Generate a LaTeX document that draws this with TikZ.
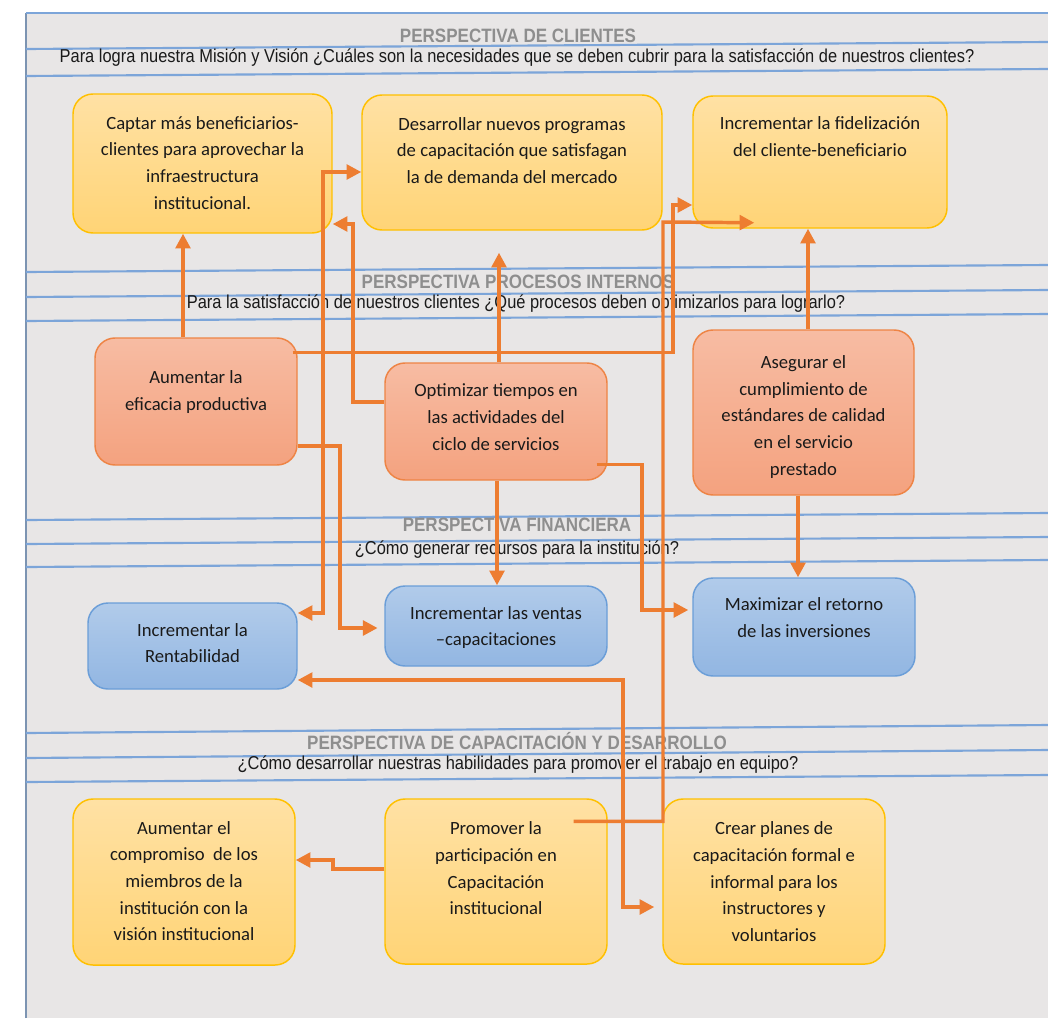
\documentclass[tikz,border=0pt]{standalone}
\usepackage{fontspec}
\setmainfont{Carlito}
\newfontfamily\bandfont[FakeStretch=0.88]{Liberation Sans}
\usetikzlibrary{arrows.meta,fit,calc}

\definecolor{pagegray}{HTML}{E8E6E6}
\definecolor{framecol}{HTML}{7C94B2}
\definecolor{bandline}{HTML}{7CA5D9}
\definecolor{titlegray}{HTML}{8E8E8E}
\definecolor{connorange}{HTML}{ED7D31}
\definecolor{boxink}{HTML}{1A1A1A}
\definecolor{ytop}{HTML}{FFE1A4}
\definecolor{ybot}{HTML}{FFD476}
\definecolor{yline}{HTML}{FFC000}
\definecolor{stop}{HTML}{F7BCA3}
\definecolor{sbot}{HTML}{F4A27F}
\definecolor{sline}{HTML}{EE8445}
\definecolor{btop}{HTML}{B1CBEA}
\definecolor{bbot}{HTML}{92B6E2}
\definecolor{bline}{HTML}{6B9ED8}

\begin{document}
\begin{tikzpicture}[x=0.75pt,y=-0.75pt,
  box/.style={rounded corners=15pt, line width=1.1pt, inner sep=0pt},
  ybox/.style={box, draw=yline, top color=ytop, bottom color=ybot},
  sbox/.style={box, draw=sline, top color=stop, bottom color=sbot},
  bbox/.style={box, draw=bline, top color=btop, bottom color=bbot},
  boxtext/.style={anchor=north, align=center, inner sep=0pt, text=boxink,
    font=\fontsize{14}{20}\selectfont},
  bandtitle/.style={inner sep=0pt, text=titlegray,
    font=\bandfont\bfseries\fontsize{14.5}{16}\selectfont},
  bandsub/.style={inner sep=0pt, text=boxink,
    font=\bandfont\fontsize{14}{16}\selectfont},
  bandrule/.style={draw=bandline, line width=1.6pt},
  conn/.style={draw=connorange, line width=2.6pt,
    -{Triangle[length=11pt,width=11pt]}},
  connboth/.style={draw=connorange, line width=2.6pt,
    {Triangle[length=11pt,width=11pt]}-{Triangle[length=11pt,width=11pt]}}]

\useasboundingbox (0,0) rectangle (1048,1021);
\fill[white] (0,0) rectangle (1048,1021);
\fill[pagegray] (26,13) rectangle (1048,1018);
\draw[framecol, line width=0.8pt] (26,1018) -- (26,13);
\draw[bandline, line width=1.5pt] (26,13) -- (1048,13);

% band separators
\draw[bandrule] (26,49) -- (1048,42);
\draw[bandrule] (26,76) -- (1048,69);
\draw[bandrule] (26,272) -- (1048,265);
\draw[bandrule] (26,297) -- (1048,290);
\draw[bandrule] (26,321) -- (1048,314);
\draw[bandrule] (26,520) -- (1048,513);
\draw[bandrule] (26,544) -- (1048,537);
\draw[bandrule] (26,567) -- (1048,560);
\draw[bandrule] (26,733) -- (1048,725);
\draw[bandrule] (26,758) -- (1048,750);
\draw[bandrule] (26,782) -- (1048,775);

% band headings
\node[bandtitle] (t1) at (518,36) {PERSPECTIVA DE CLIENTES};
\node[bandsub] (s1) at (517,58) {Para logra nuestra Misión y Visión ¿Cuáles son la necesidades que se deben cubrir para la satisfacción de nuestros clientes?};
\node[bandtitle] (t2) at (518,282) {PERSPECTIVA PROCESOS INTERNOS};
\node[bandsub] (s2) at (516,304) {Para la satisfacción de nuestros clientes ¿Qué procesos deben optimizarlos para lograrlo?};
\node[bandtitle] (t3) at (517,525) {PERSPECTIVA FINANCIERA};
\node[bandsub] (s3) at (517,550) {¿Cómo generar recursos para la institución?};
\node[bandtitle] (t4) at (517,741) {PERSPECTIVA DE CAPACITACIÓN Y DESARROLLO};
\node[bandsub] (s4) at (518,765) {¿Cómo desarrollar nuestras habilidades para promover el trabajo en equipo?};

% clientes
\node[ybox, fit={(73,94) (332,233)}] (A1) {};
\node[ybox, fit={(362,95) (662,230)}] (A2) {};
\node[ybox, fit={(693,96) (947,228)}] (A3) {};
% procesos internos
\node[sbox, fit={(95,338) (297,465)}] (B1) {};
\node[sbox, fit={(385,363) (607,480)}] (B2) {};
\node[sbox, fit={(693,330) (914,495)}] (B3) {};
% financiera
\node[bbox, fit={(88,603) (297,689)}] (C1) {};
\node[bbox, fit={(385,586) (607,666)}] (C2) {};
\node[bbox, fit={(693,578) (915,676)}] (C3) {};
% capacitacion y desarrollo
\node[ybox, fit={(73,799) (295,965)}] (D1) {};
\node[ybox, fit={(385,799) (607,964)}] (D2) {};
\node[ybox, fit={(663,799) (885,964)}] (D3) {};

\node[boxtext] (A1t) at ([yshift=-17pt]A1.north) {Captar más beneficiarios-\\clientes para aprovechar la\\infraestructura\\institucional.};
\node[boxtext] (A2t) at ([yshift=-17pt]A2.north) {Desarrollar nuevos programas\\de capacitación que satisfagan\\la de demanda del mercado};
\node[boxtext] (A3t) at ([yshift=-16pt]A3.north) {Incrementar la fidelización\\del cliente-beneficiario};
\node[boxtext] (B1t) at ([yshift=-25pt]B1.north) {Aumentar la\\eficacia productiva};
\node[boxtext] (B2t) at ([yshift=-16pt]B2.north) {Optimizar tiempos en\\las actividades del\\ciclo de servicios};
\node[boxtext] (B3t) at ([yshift=-19.5pt]B3.north) {Asegurar el\\cumplimiento de\\estándares de calidad\\en el servicio\\prestado};
\node[boxtext] (C1t) at ([yshift=-15.5pt]C1.north) {Incrementar la\\Rentabilidad};
\node[boxtext] (C2t) at ([yshift=-15.5pt]C2.north) {Incrementar las ventas\\–capacitaciones};
\node[boxtext] (C3t) at ([yshift=-15pt]C3.north) {Maximizar el retorno\\de las inversiones};
\node[boxtext] (D1t) at ([yshift=-17pt]D1.north) {Aumentar el\\compromiso~ de los\\miembros de la\\institución con la\\visión institucional};
\node[boxtext] (D2t) at ([yshift=-17.5pt]D2.north) {Promover la\\participación en\\Capacitación\\institucional};
\node[boxtext] (D3t) at ([yshift=-17.5pt]D3.north) {Crear planes de\\capacitación formal e\\informal para los\\instructores y\\voluntarios};

% connectors
\draw[conn] (B1.north -| 183,0) -- (A1.south -| 183,0);
\draw[conn, shorten >=16.5pt] (B2.north -| 499,0) -- (A2.south -| 499,0);
\draw[conn] (B3.north -| 808,0) -- (A3.south -| 808,0);
\draw[conn] (B3.south -| 798,0) -- (C3.north -| 798,0);
\draw[conn] (B2.south -| 497,0) -- (C2.north -| 497,0);
\draw[conn] (B2.west |- 0,402) -| (353,224) -- (A1.east |- 0,224);
\draw[connboth] (C1.east |- 0,613) -| (323,172) -- (A2.west |- 0,172);
\draw[conn, shorten >=5pt] (B1.east |- 0,446) -| (340,628) -- (C2.west |- 0,628);
\draw[conn] ($(B1.north east)+(-5,15)$) -| (673,205) -- (A3.west |- 0,205);
\draw[conn] ($(D2.north east)+(-34,23)$) -| (663,222) -- ($(A3.south west)+(62,-6)$);
\draw[conn, shorten >=3pt] ($(B2.south east)+(-11,-16)$) -| (642,610) -- (C3.west |- 0,610);
\draw[connboth, shorten >=6pt] (C1.east |- 0,680) -| (623,907) -- (D3.west |- 0,907);
\draw[conn] (D2.west |- 0,869) -- (333,869) |- (D1.east |- 0,860);

\end{tikzpicture}
\end{document}
